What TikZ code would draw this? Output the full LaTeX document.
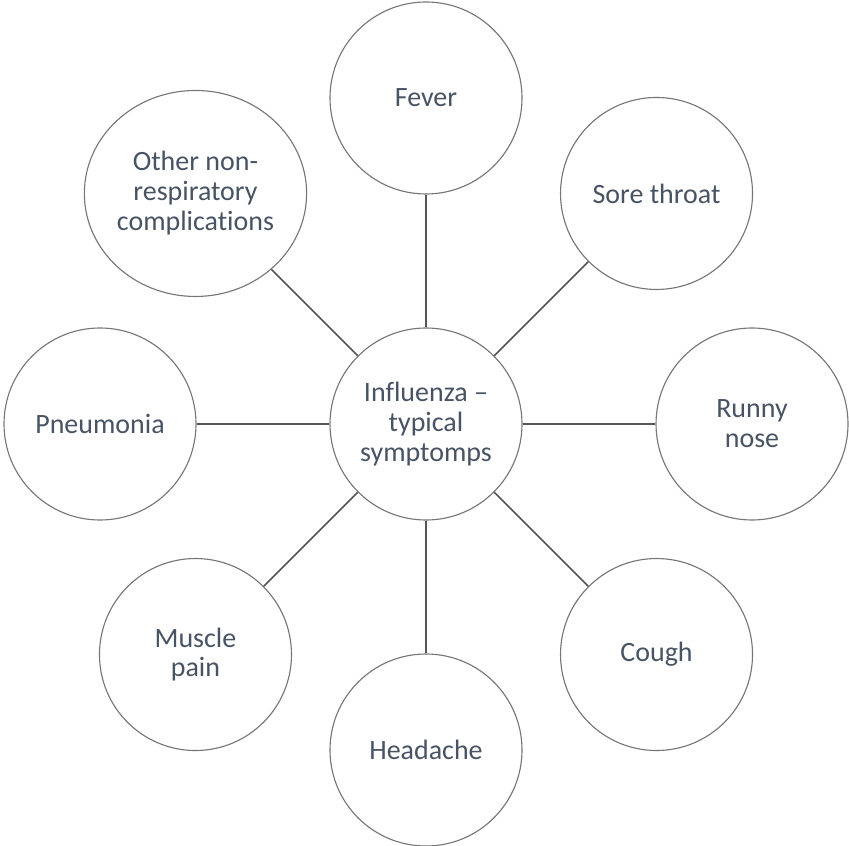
\documentclass[tikz,border=0pt]{standalone}
\usepackage{fontspec}
\setmainfont{Carlito}[Ligatures=NoCommon]
\usepackage{tikz}
\usetikzlibrary{shapes.geometric}
\definecolor{txtgray}{RGB}{72,84,100}
\definecolor{rimgray}{RGB}{118,118,118}
\definecolor{spokegray}{RGB}{85,85,85}

\begin{document}
\begin{tikzpicture}[
        symptom/.style={circle, draw=rimgray, line width=0.8pt, fill=white, minimum size=4.8cm, inner sep=0pt, align=center, text=txtgray, font=\fontsize{19.9pt}{21.3pt}\selectfont},
        bigsymptom/.style={symptom, ellipse, minimum width=5.5cm, minimum height=5.15cm},
        spoke/.style={draw, spokegray, line width=1.1pt}
    ]
    \useasboundingbox (0,0) rectangle (21.225,21.125);

    % centre
    \node[symptom] (flu) at (10.65, 10.525) {Influenza --\\typical\\symptomps};

    % ring of symptoms
    \node[symptom] (fever) at (10.65, 18.675) {Fever};
    \node[symptom] (throat) at (16.413, 16.288) {Sore throat};
    \node[symptom] (nose) at (18.8, 10.525) {Runny\\nose};
    \node[symptom] (cough) at (16.413, 4.762) {Cough};
    \node[symptom] (headache) at (10.65, 2.375) {Headache};
    \node[symptom] (muscle) at (4.887, 4.762) {Muscle\\pain};
    \node[symptom] (pneumonia) at (2.5, 10.525) {Pneumonia};
    \node[bigsymptom] (other) at (4.887, 16.288) {Other non-\\respiratory\\complications};

    % spokes
    \foreach \s in {fever, throat, nose, cough, headache, muscle, pneumonia, other} {
        \path[spoke] (flu) -- (\s);
    }

\end{tikzpicture}
\end{document}
